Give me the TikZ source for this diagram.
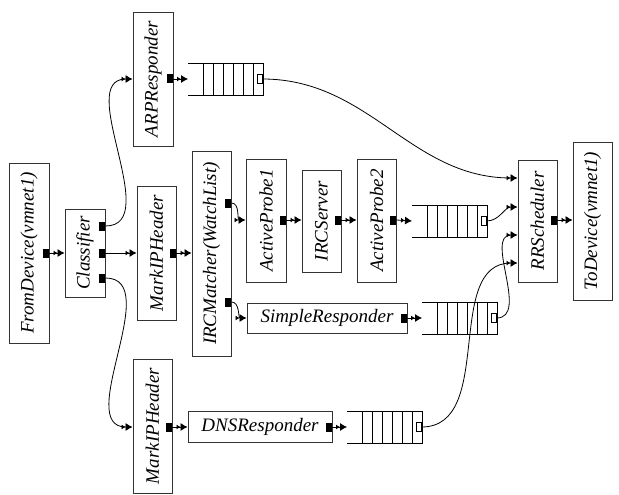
\documentclass[tikz,border=0pt]{standalone}
\usepackage{fontspec}
\setmainfont{Liberation Serif}
\usetikzlibrary{arrows.meta,calc}
\newcommand{\vlabel}[1]{\rotatebox{90}{#1}}
\newcommand{\clickqueue}[3]{% name, left x, middle y
	\draw[qline] (#2,#3-16) -- (#2+75,#3-16) -- (#2+75,#3+16) -- (#2,#3+16);
	\foreach \k in {15,25,...,65} {\draw[qline] (#2+\k,#3-16) -- (#2+\k,#3+16);}
	\coordinate (#1-in) at (#2,#3);
	\node[qport,anchor=east] (#1-out) at (#2+74.5,#3) {};
}

\begin{document}
\begin{tikzpicture}[x=1pt,y=-1pt,% element boxes, ports and queues
			every node/.style={inner sep=0pt},
			box/.style={draw=black!80,line width=0.9pt,font=\fontsize{19}{22}\selectfont\itshape},
			oport/.style={fill=black,minimum width=6pt,minimum height=9pt},
			qport/.style={draw,fill=white,line width=0.6pt,minimum width=5pt,minimum height=9pt},
			qline/.style={line width=0.9pt},
			conn/.style={line width=0.8pt,-{Latex[length=4pt,width=5pt]Latex[length=7pt,width=8pt]}},
			every edge/.style={draw,conn}
		]
		\useasboundingbox (0,0) rectangle (619,495);
		% elements
		\node[box,minimum width=40pt,minimum height=180pt](fd) at (29,253){\vlabel{FromDevice(vmnet1)}};
		\node[box,minimum width=40pt,minimum height=88pt](cls) at (85,253){\vlabel{Classifier}};
		\node[box,minimum width=40pt,minimum height=134pt](arp) at (153,79){\vlabel{ARPResponder}};
		\node[box,minimum width=39pt,minimum height=134pt](markA) at (156.5,253){\vlabel{MarkIPHeader}};
		\node[box,minimum width=39pt,minimum height=134pt](markB) at (152.5,426){\vlabel{MarkIPHeader}};
		\node[box,minimum width=39pt,minimum height=205pt](ircm) at (211.5,253.5){\vlabel{IRCMatcher(WatchList)}};
		\node[box,minimum width=40pt,minimum height=123pt](apA) at (266,220.5){\vlabel{ActiveProbe1}};
		\node[box,minimum width=39pt,minimum height=102pt](ircs) at (321.5,221){\vlabel{IRCServer}};
		\node[box,minimum width=39pt,minimum height=123pt](apB) at (376.5,220.5){\vlabel{ActiveProbe2}};
		\node[box,minimum width=160pt,minimum height=30pt](sr) at (327,318){SimpleResponder};
		\node[box,minimum width=144pt,minimum height=31pt](dns) at (260,426.5){DNSResponder};
		\node[box,minimum width=39pt,minimum height=122pt](rrs) at (537.5,221){\vlabel{RRScheduler}};
		\node[box,minimum width=39pt,minimum height=158pt](td) at (592.5,221){\vlabel{ToDevice(vmnet1)}};
		% output ports
		\node[oport,anchor=east](fd-o) at (fd.east |- 0,253){};
		\node[oport,anchor=east](cls-o1) at (cls.east |- 0,226){};
		\node[oport,anchor=east](cls-o2) at (cls.east |- 0,253){};
		\node[oport,anchor=east](cls-o3) at (cls.east |- 0,278){};
		\node[oport,anchor=east](arp-o) at (arp.east |- 0,79){};
		\node[oport,anchor=east](markA-o) at (markA.east |- 0,253){};
		\node[oport,anchor=east](markB-o) at (markB.east |- 0,427){};
		\node[oport,anchor=east](ircm-o1) at (ircm.east |- 0,203){};
		\node[oport,anchor=east](ircm-o2) at (ircm.east |- 0,302){};
		\node[oport,anchor=east](apA-o) at (apA.east |- 0,220){};
		\node[oport,anchor=east](ircs-o) at (ircs.east |- 0,220){};
		\node[oport,anchor=east](apB-o) at (apB.east |- 0,220){};
		\node[oport,anchor=east](sr-o) at (sr.east |- 0,318){};
		\node[oport,anchor=east](dns-o) at (dns.east |- 0,427){};
		\node[oport,anchor=east](rrs-o) at (rrs.east |- 0,220){};
		% scheduler inputs
		\coordinate (rrs-i1) at (rrs.west |- 0,178);
		\coordinate (rrs-i2) at (rrs.west |- 0,207);
		\coordinate (rrs-i3) at (rrs.west |- 0,235);
		\coordinate (rrs-i4) at (rrs.west |- 0,263);
		% queues
		\clickqueue{q1}{188}{79}
		\clickqueue{q2}{412}{221}
		\clickqueue{q3}{422}{318}
		\clickqueue{q4}{347}{427}
		% connections
		\path
		(fd-o.east) edge (cls.west |- fd-o)
		(cls-o1.east) edge[out=0,in=180] (arp.west |- arp-o)
		(cls-o2.east) edge (markA.west |- cls-o2)
		(cls-o3.east) edge[out=0,in=180] (markB.west |- markB-o)
		(arp-o.east) edge (q1-in)
		(markA-o.east) edge (ircm.west |- markA-o)
		(ircm-o1.east) edge[out=0,in=180] (apA.west |- apA-o)
		(apA-o.east) edge (ircs.west |- apA-o)
		(ircs-o.east) edge (apB.west |- ircs-o)
		(apB-o.east) edge (q2-in)
		(ircm-o2.east) edge[out=0,in=180] (sr.west |- sr-o)
		(sr-o.east) edge (q3-in)
		(markB-o.east) edge (dns.west |- markB-o)
		(dns-o.east) edge (q4-in)
		(q1-out.east) edge[out=0,in=180] (rrs-i1)
		(q2-out.east) edge[out=0,in=180] (rrs-i2)
		(q3-out.east) edge[out=0,in=180] (rrs-i3)
		(q4-out.east) edge[out=0,in=180] (rrs-i4)
		(rrs-o.east) edge (td.west |- rrs-o)
		;
	\end{tikzpicture}
\end{document}
